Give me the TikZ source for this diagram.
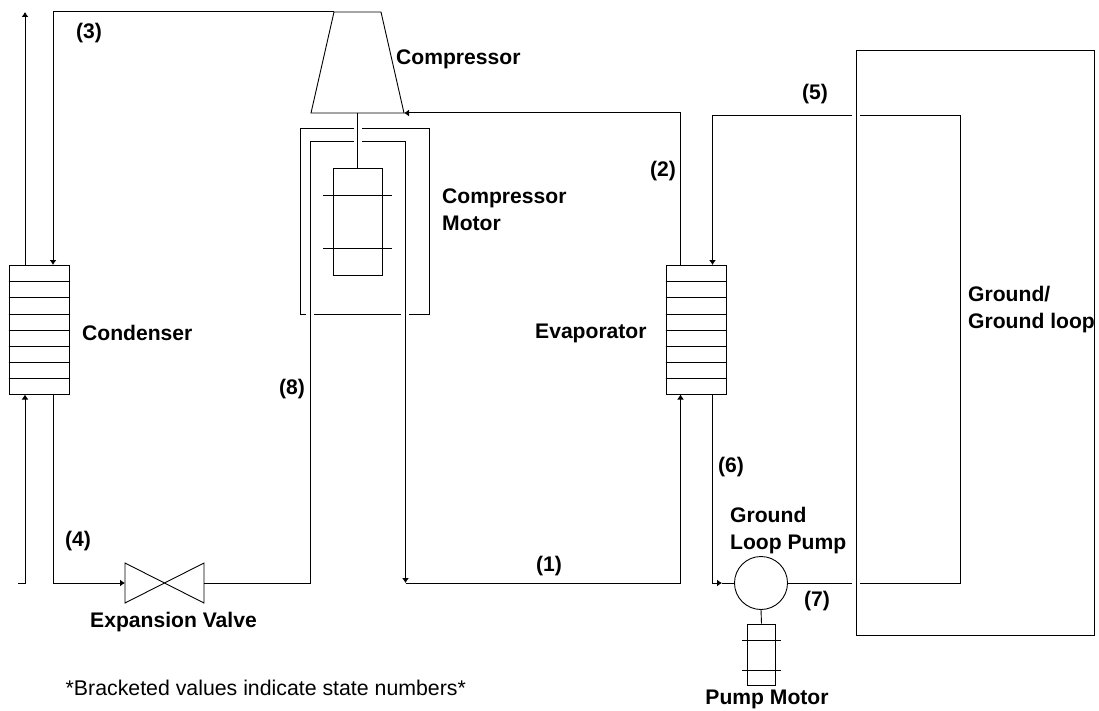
\documentclass[tikz,border=0pt]{standalone}
\usepackage{fontspec}
\setmainfont{Liberation Sans}
\usetikzlibrary{arrows.meta}
\tikzset{
    pipe/.style={line width=1pt},
    thin part/.style={line width=.9pt},
    flow/.style={pipe,-{Latex[length=5pt,width=7pt]}},
    part/.style={draw,thin part,inner sep=0pt,minimum width=#1},
    exchanger/.style={part=60pt,minimum height=129.5pt},
    motorbox/.style={part=#1},
    tag/.style={font=\fontsize{21.1}{27}\selectfont\bfseries,inner sep=0pt,align=left},
    note/.style={font=\fontsize{21.3}{27}\selectfont,inner sep=0pt}
}
\begin{document}
\begin{tikzpicture}[x=1pt,y=-1pt]
    \useasboundingbox (0,0) rectangle (1099,711);
    % Heat exchangers:
    \node[exchanger] (condenser) at (39,329.75) {};
    \node[exchanger] (evaporator) at (696,329.75) {};
    \foreach \ex in {condenser,evaporator}
        \foreach \row in {1,...,7}
            \draw[thin part] ([yshift=\row*16.19pt]\ex.south west) -- ([yshift=\row*16.19pt]\ex.south east);
    % Compressor and its motor:
    \coordinate (compTL) at (334,12);
    \coordinate (compTR) at (381,12);
    \coordinate (compBR) at (404,113);
    \coordinate (compBL) at (311,113);
    \draw[thin part] (compTL) -- (compTR) -- (compBR) -- (compBL) -- cycle;
    \node[motorbox=49pt,minimum height=107pt] (compmotor) at (357.5,221.5) {};
    \draw[thin part] (323,195) -- (392,195);
    \draw[thin part] (323,248) -- (392,248);
    \draw[thin part] (357.5,113) -- (compmotor.north);
    % Jacket round the motor:
    \draw[thin part] (354,128.5) -- (300.5,128.5) -- (300.5,314.5) -- (306,314.5);
    \draw[thin part] (314,314.5) -- (401,314.5);
    \draw[thin part] (409,314.5) -- (429,314.5) -- (429,128.5) -- (362,128.5);
    % Valve:
    \coordinate (valveL) at (125,583);
    \coordinate (valveR) at (204,583);
    \draw[thin part] (125,563) -- (204,603) -- (204,563) -- (125,603) -- cycle;
    % Pump:
    \node[draw,circle,thin part,minimum size=53pt,inner sep=0pt] (pump) at (761,583) {};
    \node[motorbox=27.5pt,minimum height=61pt] (pumpmotor) at (761.5,654.5) {};
    \draw[thin part] (742,640) -- (781,640);
    \draw[thin part] (742,670) -- (781,670);
    \draw[thin part] (pump.south) -- (pumpmotor.north);
    % Ground:
    \node[draw,thin part,inner sep=0pt,minimum width=238pt,minimum height=584.5pt] (ground) at (975,342.75) {};
    % Refrigerant side:
    \coordinate (condIn) at (53,265);
    \coordinate (condOut) at (53,394.5);
    \coordinate (condUp) at (25,265);
    \coordinate (condLow) at (25,394.5);
    \coordinate (topLeft) at (53,12);
    \coordinate (sideTop) at (25,12);
    \coordinate (sideBot) at (25,583);
    \coordinate (sideEnd) at (18,583);
    \coordinate (valveIn) at (53,583);
    \draw[flow] (compTL) -- (topLeft) -- (condIn);
    \draw[flow] (condUp) -- (sideTop);
    \draw[flow] (sideEnd) -- (sideBot) -- (condLow);
    \draw[flow] (condOut) -- (valveIn) -- (valveL);
    \coordinate (jacketL) at (310.5,583);
    \coordinate (jacketTL) at (310.5,141.5);
    \coordinate (jacketGapL) at (354,141.5);
    \coordinate (jacketGapR) at (362,141.5);
    \coordinate (jacketTR) at (405.5,141.5);
    \coordinate (jacketR) at (405.5,583);
    \draw[pipe] (valveR) -- (jacketL) -- (jacketTL) -- (jacketGapL);
    \draw[flow] (jacketGapR) -- (jacketTR) -- (jacketR);
    \coordinate (evapLow) at (680.5,394.5);
    \coordinate (evapLowB) at (680.5,583);
    \coordinate (evapUp) at (680.5,265);
    \coordinate (evapUpT) at (680.5,113);
    \draw[flow] (jacketR) -- (evapLowB) -- (evapLow);
    \draw[flow] (evapUp) -- (evapUpT) -- (compBR);
    % Ground loop side:
    \coordinate (brineIn) at (712.5,265);
    \coordinate (brineTop) at (712.5,115.5);
    \coordinate (brineOut) at (712.5,394.5);
    \coordinate (brineBot) at (712.5,583);
    \coordinate (brineTip) at (722,583);
    \coordinate (gapTL) at (852,115.5);
    \coordinate (gapTR) at (860,115.5);
    \coordinate (loopTR) at (960.5,115.5);
    \coordinate (loopBR) at (960.5,583);
    \coordinate (gapBR) at (860,583);
    \coordinate (gapBL) at (852,583);
    \draw[flow] (gapTL) -- (brineTop) -- (brineIn);
    \draw[pipe] (gapTR) -- (loopTR) -- (loopBR) -- (gapBR);
    \draw[pipe] (gapBL) -- (pump.east);
    \draw[flow] (brineOut) -- (brineBot) -- (brineTip);
    \draw[pipe] (brineTip) -- (pump.west);
    % Labels:
    \node[tag] at (89,33) {(3)};
    \node[tag,anchor=west] at (396,59) {Compressor};
    \node[tag] at (815,94) {(5)};
    \node[tag] at (663,171) {(2)};
    \node[tag,anchor=west] at (442,209.5) {Compressor\\Motor};
    \node[tag,anchor=west] at (82,332.5) {Condenser};
    \node[tag,anchor=west] at (535,333.5) {Evaporator};
    \node[tag,anchor=west] at (968,310) {Ground/\\Ground loop};
    \node[tag] at (292,389) {(8)};
    \node[tag] at (731,467) {(6)};
    \node[tag,anchor=west] at (730,530.5) {Ground\\Loop Pump};
    \node[tag] at (78,541) {(4)};
    \node[tag] at (549,566) {(1)};
    \node[tag] at (817,601) {(7)};
    \node[tag] at (173.5,622) {Expansion Valve};
    \node[tag] at (767,699) {Pump Motor};
    \node[note,anchor=west] at (65.5,688) {*Bracketed values indicate state numbers*};
\end{tikzpicture}
\end{document}
